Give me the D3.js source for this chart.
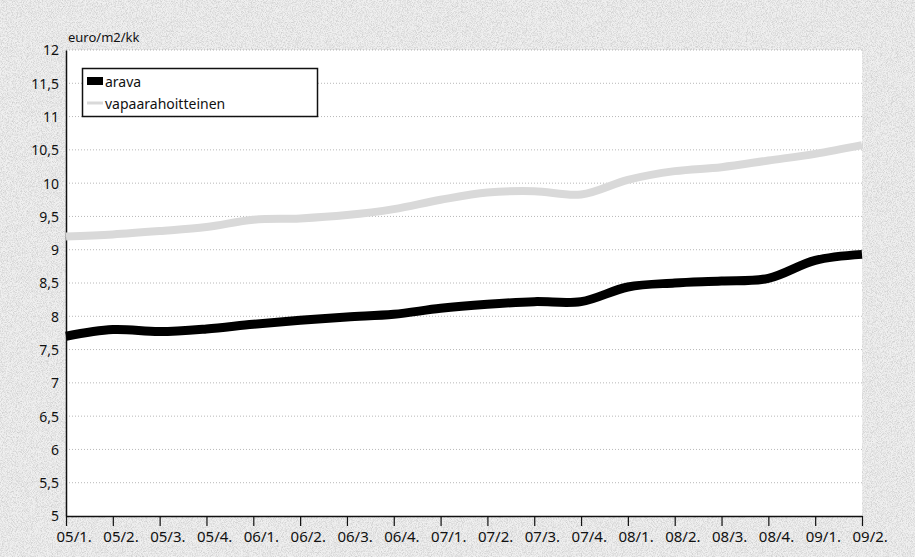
<!DOCTYPE html>
<html>
<head>
<meta charset="utf-8">
<script src="https://cdn.jsdelivr.net/npm/d3@7"></script>
<style>
  body { margin: 0; background: #ececec; }
  text { font-family: "Noto Sans", sans-serif; fill: #111; }
</style>
</head>
<body>
<div id="chart"></div>
<script>
var svgWidth = 915;
var svgHeight = 557;

var margin = { top: 50, right: 53, bottom: 41, left: 66 };
var width = svgWidth - margin.left - margin.right;
var height = svgHeight - margin.top - margin.bottom;

// quarters 2005/1 .. 2009/2
var quarters = ["05/1.", "05/2.", "05/3.", "05/4.", "06/1.", "06/2.", "06/3.", "06/4.",
  "07/1.", "07/2.", "07/3.", "07/4.", "08/1.", "08/2.", "08/3.", "08/4.", "09/1.", "09/2."];

var arava = [7.70, 7.80, 7.77, 7.81, 7.88, 7.94, 7.99, 8.03,
  8.12, 8.18, 8.22, 8.22, 8.44, 8.50, 8.53, 8.57, 8.84, 8.93];

var vapaarahoitteinen = [9.20, 9.23, 9.28, 9.34, 9.45, 9.47, 9.52, 9.61,
  9.75, 9.86, 9.88, 9.83, 10.05, 10.18, 10.24, 10.34, 10.44, 10.57];

var yTicks = [5, 5.5, 6, 6.5, 7, 7.5, 8, 8.5, 9, 9.5, 10, 10.5, 11, 11.5, 12];

var svg = d3.select("#chart")
  .append("svg")
  .attr("width", svgWidth)
  .attr("height", svgHeight);

// scanned-paper look: speckled grey
var defs = svg.append("defs");
var noise = defs.append("filter").attr("id", "noise")
  .attr("x", 0).attr("y", 0).attr("width", "100%").attr("height", "100%");
noise.append("feTurbulence")
  .attr("type", "fractalNoise")
  .attr("baseFrequency", 1.2)
  .attr("numOctaves", 1)
  .attr("seed", 3);
noise.append("feColorMatrix")
  .attr("type", "matrix")
  .attr("values", "0 0 0 0 0.45  0 0 0 0 0.45  0 0 0 0 0.45  1.4 0 0 0 -0.55");

svg.append("rect")
  .attr("width", svgWidth).attr("height", svgHeight)
  .attr("fill", "#f0f0f0");
svg.append("rect")
  .attr("width", svgWidth).attr("height", svgHeight)
  .attr("filter", "url(#noise)");

var chartGroup = svg.append("g")
  .attr("transform", `translate(${margin.left}, ${margin.top})`);

chartGroup.append("rect")
  .attr("width", width).attr("height", height)
  .attr("fill", "#fff");

var xScale = d3.scalePoint()
  .domain(quarters)
  .range([0, width]);

var yScale = d3.scaleLinear()
  .domain([5, 12])
  .range([height, 0]);

// gridlines
chartGroup.selectAll(".grid")
  .data(yTicks.slice(1))
  .enter()
  .append("line")
  .attr("x1", 0).attr("x2", width)
  .attr("y1", d => yScale(d)).attr("y2", d => yScale(d))
  .attr("stroke", "#888")
  .attr("stroke-width", 1)
  .attr("stroke-dasharray", "1,2")
  .attr("opacity", 0.6);

// y axis
var leftAxis = d3.axisLeft(yScale)
  .tickValues(yTicks)
  .tickSize(0)
  .tickPadding(7)
  .tickFormat(d => String(d).replace(".", ","));

var yAxisG = chartGroup.append("g").call(leftAxis);
yAxisG.select(".domain").attr("stroke", "#111").attr("stroke-width", 1.5);
yAxisG.selectAll("text")
  .style("font-size", "14px")
  .attr("dy", "0.35em")
  .attr("fill", "#111");

// x axis
var bottomAxis = d3.axisBottom(xScale)
  .tickSize(10)
  .tickSizeOuter(0)
  .tickPadding(5);

var xAxisG = chartGroup.append("g")
  .attr("transform", `translate(0, ${height})`)
  .call(bottomAxis);
xAxisG.select(".domain").attr("stroke", "#111").attr("stroke-width", 1.5);
xAxisG.selectAll(".tick line").attr("stroke", "#111").attr("stroke-width", 1.2);
xAxisG.selectAll("text")
  .style("font-size", "15px")
  .attr("text-anchor", "start")
  .attr("x", -10)
  .attr("fill", "#111");

// lines
var line = d3.line()
  .x((d, i) => xScale(quarters[i]))
  .y(d => yScale(d))
  .curve(d3.curveCatmullRom.alpha(0.5));

chartGroup.append("path")
  .datum(vapaarahoitteinen)
  .attr("d", line)
  .attr("fill", "none")
  .attr("stroke", "#d9d9d9")
  .attr("stroke-width", 8);

chartGroup.append("path")
  .datum(arava)
  .attr("d", line)
  .attr("fill", "none")
  .attr("stroke", "#000")
  .attr("stroke-width", 9);

// unit label
svg.append("text")
  .attr("x", 68)
  .attr("y", 42)
  .style("font-size", "13px")
  .text("euro/m2/kk");

// legend
var legend = svg.append("g");
legend.append("rect")
  .attr("x", 82.5).attr("y", 68.5)
  .attr("width", 235).attr("height", 48)
  .attr("fill", "#fff")
  .attr("stroke", "#111")
  .attr("stroke-width", 1.5);
legend.append("rect")
  .attr("x", 87).attr("y", 77)
  .attr("width", 16).attr("height", 8)
  .attr("fill", "#000");
legend.append("text")
  .attr("x", 105).attr("y", 87)
  .style("font-size", "14px")
  .text("arava");
legend.append("line")
  .attr("x1", 87).attr("x2", 103)
  .attr("y1", 103).attr("y2", 103)
  .attr("stroke", "#d9d9d9")
  .attr("stroke-width", 3);
legend.append("text")
  .attr("x", 105).attr("y", 109)
  .style("font-size", "14px")
  .text("vapaarahoitteinen");
</script>
</body>
</html>
